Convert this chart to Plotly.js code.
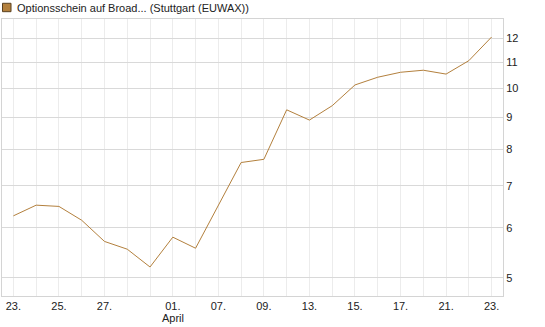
<!DOCTYPE html>
<html>
<head>
<meta charset="utf-8">
<script src="https://cdn.plot.ly/plotly-3.0.1.min.js"></script>
<style>html,body{margin:0;padding:0;background:#fff;}#chart{width:545px;height:327px;}</style>
</head>
<body>
<div id="chart"></div>
<script>
// Trading days (March 23 to April 23)
const dates = ["23.03","24.03","25.03","26.03","27.03","30.03","31.03","01.04","02.04","07.04","08.04",
               "09.04","10.04","13.04","14.04","15.04","16.04","17.04","20.04","21.04","22.04","23.04"];
const prices = [6.27, 6.52, 6.49, 6.17, 5.71, 5.55, 5.20, 5.80, 5.57, 6.50, 7.62,
                7.71, 9.24, 8.90, 9.38, 10.12, 10.41, 10.60, 10.68, 10.53, 11.06, 12.06];
const xTickText = ["23.","","25.","","27.","","","01.","","07.","",
                   "09.","","13.","","15.","","17.","","21.","","23."];
const monthLabel = "April";
const monthAt = "01.04";
const yTicks = [5, 6, 7, 8, 9, 10, 11, 12];
const seriesName = "Optionsschein auf Broad... (Stuttgart (EUWAX))";

const lineColor = "#b3803d";

const trace = {
  x: dates, y: prices, type: "scatter", mode: "lines",
  line: {color: lineColor, width: 1},
  hoverinfo: "skip", showlegend: false
};

const layout = {
  width: 545, height: 327,
  margin: {l: 2, r: 42, t: 19, b: 31, pad: 0},
  paper_bgcolor: "#fff", plot_bgcolor: "#fff",
  font: {family: "Liberation Sans, Arial, sans-serif", size: 11, color: "#222"},
  showlegend: false,
  xaxis: {
    type: "category", categoryorder: "array", categoryarray: dates,
    range: [-0.5, dates.length - 0.5],
    tickmode: "array", tickvals: dates, ticktext: xTickText,
    showgrid: true, gridcolor: "#ececec", gridwidth: 1,
    showline: true, linecolor: "#d4d4d4", linewidth: 1, mirror: true,
    ticks: "", ticklen: 0, tickangle: 0, zeroline: false,
    tickfont: {size: 11, color: "#222"}
  },
  yaxis: {
    type: "log", side: "right",
    range: [Math.log10(4.677), Math.log10(12.88)],
    tickmode: "array", tickvals: yTicks, ticktext: yTicks.map(String),
    showgrid: true, gridcolor: "#d9d9d9", gridwidth: 1,
    showline: true, linecolor: "#d4d4d4", linewidth: 1, mirror: true,
    ticks: "", zeroline: false,
    tickfont: {size: 11, color: "#222"}
  },
  shapes: [{
    type: "rect", xref: "paper", yref: "paper",
    x0: 0.001, x1: 0.018, y0: 1.0264, y1: 1.0567,
    fillcolor: lineColor, line: {color: "#5a4020", width: 1}
  }],
  annotations: [{
    text: seriesName, xref: "paper", yref: "paper",
    x: 0.025, y: 1.041, xanchor: "left", yanchor: "middle",
    showarrow: false, font: {size: 11, color: "#222"}
  }, {
    text: monthLabel, xref: "x", yref: "paper",
    x: dates.indexOf(monthAt), y: -0.080, xanchor: "center", yanchor: "middle",
    showarrow: false, borderpad: 0, font: {size: 11, color: "#222"}
  }]
};

Plotly.newPlot("chart", [trace], layout, {staticPlot: true, displayModeBar: false});
</script>
</body>
</html>
